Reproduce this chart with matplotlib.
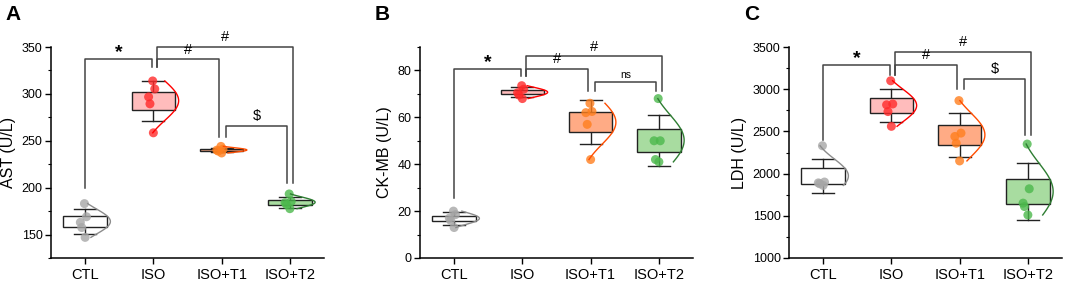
import numpy as np
import matplotlib
matplotlib.use("Agg")
import matplotlib.pyplot as plt
from matplotlib.ticker import MultipleLocator

plt.rcParams['font.family'] = ['Liberation Sans', 'DejaVu Sans']

groups = ["CTL", "ISO", "ISO+T1", "ISO+T2"]

# individual values (U/L)
ast = [
    [183, 169, 163, 157.5, 147],
    [313.8, 305.3, 296.8, 289.4, 258.5],
    [244, 241, 240, 239, 237],
    [193.3, 185.4, 184, 182, 177.6],
]
ckmb = [
    [20, 18.5, 17, 16, 13],
    [73.5, 72, 70.5, 69.5, 68],
    [66, 62.5, 62, 57, 42],
    [68, 50, 50, 42, 41],
]
ldh = [
    [2330, 1900, 1890, 1880, 1860],
    [3100, 2825, 2815, 2735, 2560],
    [2865, 2480, 2440, 2360, 2150],
    [2350, 1820, 1650, 1610, 1510],
]

# significance brackets: (left group, right group, height, left leg end, right leg end, label)
ast_sig = [
    (0, 1, 337, 200, 329, "*"),
    (1, 3, 350, 329, 205, "#"),
    (1, 2, 337, 329, 254, "#"),
    (2, 3, 266, 254, 205, "$"),
]
ckmb_sig = [
    (0, 1, 80.7, 25.6, 77.6, "*"),
    (1, 3, 86.1, 77.6, 71.2, "#"),
    (1, 2, 80.7, 77.6, 71.2, "#"),
    (2, 3, 75.0, 71.2, 71.2, "ns"),
]
ldh_sig = [
    (0, 1, 3287, 2398, 3168, "*"),
    (1, 3, 3444, 3168, 2457, "#"),
    (1, 2, 3287, 3168, 2999, "#"),
    (2, 3, 3121, 2999, 2457, "$"),
]

point_col = ["#a6a6a6", "#ff2a2a", "#ff7f1e", "#4cb84c"]
face_col = ["#ffffff", "#ffbcbc", "#ffab85", "#a8dca0"]
curve_col = ["#8c8c8c", "#ff0000", "#ff4d00", "#2e7d32"]
jitter = [0.01, 0.04, -0.05, -0.03, 0.02]
line_col = "#444444"


def draw_panel(ax, data, sig, ylab, ylim, major, minor, letter):
    for i, vals in enumerate(data):
        v = np.array(vals, dtype=float)
        x = i + 1
        m = v.mean()
        sd = v.std(ddof=1)
        se = sd / np.sqrt(len(v))
        # whiskers (mean +/- SD)
        ax.plot([x, x], [m - sd, m + sd], color="#222222", lw=1.0, zorder=2)
        for yy in (m - sd, m + sd):
            ax.plot([x - 0.16, x + 0.16], [yy, yy], color="#222222", lw=1.0, zorder=2)
        # box (mean +/- SE)
        ax.add_patch(plt.Rectangle((x - 0.32, m - se), 0.64, 2 * se,
                                   facecolor=face_col[i], edgecolor="#222222",
                                   lw=1.0, zorder=3))
        # points
        ax.scatter(x + np.array(jitter) - 0.02, v, s=42, color=point_col[i],
                   alpha=0.8, edgecolor="none", zorder=4)
        # normal curve
        yy = np.linspace(v.min(), v.max(), 80)
        z = (yy - m) / sd
        ax.plot(x - 0.15 + 0.52 * np.exp(-z ** 2 / 2), yy, color=curve_col[i],
                lw=1.0, zorder=5)

    for a, b, h, la, lb, lab in sig:
        xa = a + 1 + (0.06 if a == 1 else -0.0)
        xb = b + 1 - 0.04
        if a == 1 and b == 3:
            xb = b + 1 + 0.04
        if a == 2:
            xa = a + 1 + 0.06
        if a == 0:
            xa = a + 1
            xb = b + 1 - 0.02
        ax.plot([xa, xa, xb, xb], [la, h, h, lb], color=line_col, lw=1.1,
                zorder=1, clip_on=False)
        fs = 7.5 if lab == "ns" else (14 if lab == "*" else 10.5)
        off = (ylim[1] - ylim[0]) * (-0.01 if lab == "*" else 0.012)
        ax.text((xa + xb) / 2, h + off, lab, ha="center", va="bottom",
                fontsize=fs, fontweight="bold" if lab == "*" else "normal")

    ax.set_xlim(0.5, 4.5)
    ax.set_ylim(*ylim)
    ax.set_xticks([1, 2, 3, 4])
    ax.set_xticklabels(groups, fontsize=10.5)
    ax.yaxis.set_major_locator(MultipleLocator(major))
    ax.yaxis.set_minor_locator(MultipleLocator(minor))
    ax.tick_params(axis="y", labelsize=9, direction="out", length=4, width=1.0, pad=2)
    ax.tick_params(axis="y", which="minor", direction="out", length=2.5, width=0.8)
    ax.tick_params(axis="x", direction="out", length=4, width=1.0, pad=3)
    ax.set_ylabel(ylab, fontsize=11.5, labelpad=4)
    for s in ("top", "right"):
        ax.spines[s].set_visible(False)
    for s in ("left", "bottom"):
        ax.spines[s].set_linewidth(1.1)
    ax.text(-0.165, 1.155, letter, transform=ax.transAxes, fontsize=15,
            fontweight="bold", ha="left", va="center")


fig = plt.figure(figsize=(10.65, 2.83), dpi=100)
axA = fig.add_axes([51 / 1065, 25 / 283, 273 / 1065, 211 / 283])
axB = fig.add_axes([420 / 1065, 25 / 283, 273 / 1065, 211 / 283])
axC = fig.add_axes([789 / 1065, 25 / 283, 273 / 1065, 211 / 283])

draw_panel(axA, ast, ast_sig, "AST (U/L)", (125, 350), 50, 25, "A")
draw_panel(axB, ckmb, ckmb_sig, "CK-MB (U/L)", (0, 90), 20, 10, "B")
draw_panel(axC, ldh, ldh_sig, "LDH (U/L)", (1000, 3500), 500, 250, "C")

fig.savefig("out.png", dpi=100)
